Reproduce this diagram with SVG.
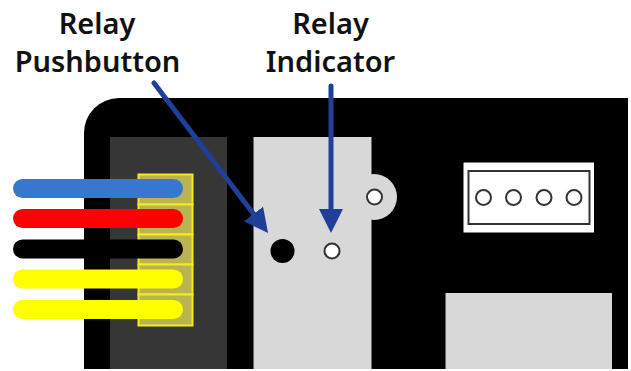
<svg xmlns="http://www.w3.org/2000/svg" width="631" height="371" viewBox="0 0 631 371">
<style>
.lbl{font-family:"Noto Sans","Liberation Sans",sans-serif;font-weight:600;font-size:29px;fill:#111;text-anchor:middle}
.wire{stroke-width:19;stroke-linecap:round;fill:none}
.hole{fill:#fff;stroke:#333;stroke-width:2}
.grey{fill:#d8d8d8}
.seg{fill:#b9b350;stroke:#f4ec20;stroke-width:2}
.conn{stroke:#1f3f98;stroke-width:5;stroke-linecap:round;fill:none;marker-end:url(#ah)}
</style>
<defs><marker id="ah" markerUnits="userSpaceOnUse" markerWidth="26" markerHeight="26" refX="16" refY="12" orient="auto"><path d="M0 0L24 12L0 24Z" fill="#1f3f98"/></marker></defs>
<g id="board"><path d="M84 369V133A35 35 0 0 1 119 98H628V369Z" fill="#000"/></g>
<g id="terminal-block"><rect x="110" y="137" width="117" height="232" fill="#363636"/>
<rect class="seg" x="138.500" y="174.500" width="54" height="30"/><rect class="seg" x="138.500" y="204.500" width="54" height="30"/><rect class="seg" x="138.500" y="234.500" width="54" height="30"/><rect class="seg" x="138.500" y="264.500" width="54" height="30"/><rect class="seg" x="138.500" y="294.500" width="54" height="31"/></g>
<g id="wires">
<path class="wire" stroke="#3877cf" d="M22.500 188.500H173.500"/>
<path class="wire" stroke="#ff0000" d="M22.500 218.500H173.500"/>
<path class="wire" stroke="#000" d="M22.500 249H173.500"/>
<path class="wire" stroke="#ffff00" d="M22.500 279H173.500"/>
<path class="wire" stroke="#ffff00" d="M22.500 309.500H173.500"/></g>
<g id="relay"><circle class="grey" cx="374" cy="197" r="23"/><rect class="grey" x="253.500" y="137" width="118" height="232"/><circle class="hole" cx="374.500" cy="197" r="7.500"/></g>
<g id="relay-pushbutton"><circle cx="282.500" cy="251" r="12" fill="#000"/></g>
<g id="relay-indicator"><circle class="hole" cx="332" cy="251" r="7.500"/></g>
<g id="connector"><rect x="463.500" y="162.500" width="130.500" height="70" fill="#fff"/><rect x="468.500" y="171" width="121" height="53" fill="#fff" stroke="#333" stroke-width="2"/>
<circle class="hole" cx="483.500" cy="197.500" r="7.500"/><circle class="hole" cx="513.500" cy="197.500" r="7.500"/><circle class="hole" cx="544" cy="197.500" r="7.500"/><circle class="hole" cx="574" cy="197.500" r="7.500"/></g>
<g id="lower-block"><rect class="grey" x="445.500" y="293" width="166.500" height="76"/></g>
<g id="connectors"><path class="conn" d="M154 83L263.200 226.700"/><path class="conn" d="M331 86V225"/></g>
<g id="label-pushbutton"><text class="lbl" x="97" y="34">Relay</text><text class="lbl" x="97.500" y="72">Pushbutton</text></g>
<g id="label-indicator"><text class="lbl" x="330.500" y="34">Relay</text><text class="lbl" x="330.500" y="72">Indicator</text></g>
</svg>
